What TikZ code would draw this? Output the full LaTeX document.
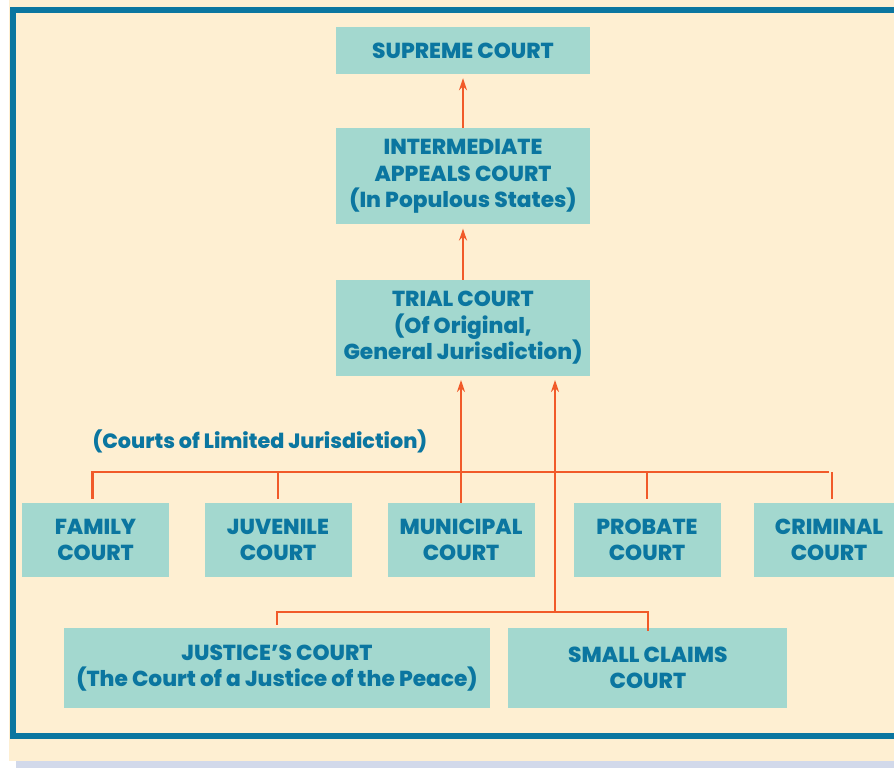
\documentclass[tikz,border=0pt]{standalone}
\usepackage{fontspec}
\setsansfont{Poppins}[BoldFont={Poppins ExtraBold}]
\usepackage{tikz}
\usetikzlibrary{arrows.meta,positioning}
\definecolor{cream}{HTML}{FEEFD2}
\definecolor{boxfill}{HTML}{A3D8CF}
\definecolor{courtblue}{HTML}{0B76A0}
\definecolor{linkred}{HTML}{F15A29}
\definecolor{band}{HTML}{D2D9EA}
\tikzset{>={Stealth[length=12pt,width=8pt]}}
\tikzstyle{court} = [fill=boxfill, text=courtblue, align=center,
    inner sep=0pt, font=\sffamily\bfseries\fontsize{21.7}{26.5}\selectfont]
\tikzstyle{small} = [court, minimum width=147pt, minimum height=74pt]
\tikzstyle{link} = [draw=linkred, line width=2.5pt]

\begin{document}
\begin{tikzpicture}[x=1pt,y=-1pt]
    \useasboundingbox (0,0) rectangle (894,768);
    \fill[cream] (9,0) rectangle (894,761);
    \fill[band] (16,761) rectangle (894,768);
    \draw[courtblue, line width=6pt] (900,10) -- (13,10) -- (13,735.5) -- (900,735.5);
    \node [court, minimum width=254pt, minimum height=47pt] at (463,50.5) (supreme) {SUPREME COURT};
    \node [court, minimum width=254pt, minimum height=96pt, below=54pt of supreme] (appeals)
        {INTERMEDIATE\\APPEALS COURT\\(In Populous States)};
    \node [court, minimum width=254pt, minimum height=96pt, below=55pt of appeals] (trial)
        {TRIAL COURT\\(Of Original,\\General Jurisdiction)};
    \node [text=courtblue, font=\sffamily\bfseries\fontsize{20.7}{24}\selectfont, anchor=west] at (89,441) (limited)
        {(Courts of Limited Jurisdiction)};
    \node [small] at (95.5,540) (family) {FAMILY\\COURT};
    \node [small] at (278,540) (juvenile) {JUVENILE\\COURT};
    \node [small] at (461,540) (municipal) {MUNICIPAL\\COURT};
    \node [small] at (647,540) (probate) {PROBATE\\COURT};
    \node [small, minimum width=150pt] at (829,540) (criminal) {CRIMINAL\\COURT};
    \node [court, minimum width=426pt, minimum height=80pt] at (277,668) (justice)
        {JUSTICE’S COURT\\(The Court of a Justice of the Peace)};
    \node [court, minimum width=279pt, minimum height=80pt, right=18pt of justice] (claims)
        {SMALL CLAIMS\\COURT};
    \coordinate (bus) at (461,472);
    \coordinate (pair) at (555,612);
    \draw [link] (family.north) ++(-3,-4) |- (criminal.north |- bus) ++(3,0) -- ++(0,27);
    \draw [link] (juvenile.north) ++(0,-4) -- (juvenile |- bus);
    \draw [link] (municipal.north) -- (bus);
    \draw [link] (probate.north) ++(0,-4) -- (probate |- bus);
    \draw [link] (justice.north) ++(0,-3) |- (pair) -| ([yshift=-3pt]claims.north);
    \draw [link, ->, shorten >=4pt] (bus) -- (bus |- trial.south);
    \draw [link, ->, shorten >=4pt] (pair) -- (pair |- trial.south);
    \draw [link, ->, shorten >=4pt] (trial.north) -- (appeals.south);
    \draw [link, ->, shorten >=4pt] (appeals.north) -- (supreme.south);
\end{tikzpicture}
\end{document}
